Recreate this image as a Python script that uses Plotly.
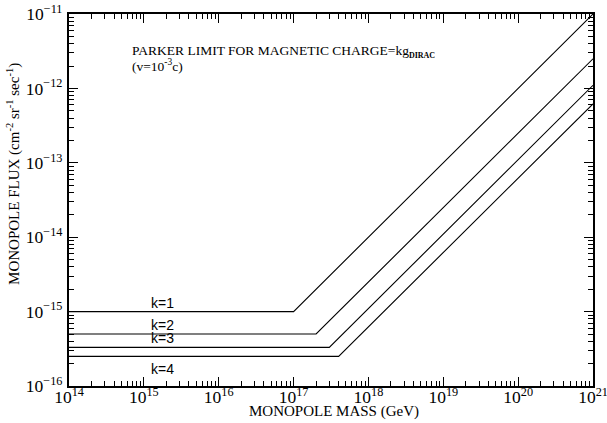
import plotly.graph_objects as go
import math

# Data (mass in GeV, flux in cm^-2 sr^-1 sec^-1)
k_values = [1, 2, 3, 4]
mass_k1 = [1e14, 1e17, 1e21]
flux_k1 = [1e-15, 1e-15, 1e-11]
mass_k2 = [1e14, 2e17, 1e21]
flux_k2 = [5e-16, 5e-16, 2.5e-12]
mass_k3 = [1e14, 3e17, 1e21]
flux_k3 = [3.3e-16, 3.3e-16, 1.1e-12]
mass_k4 = [1e14, 4e17, 1e21]
flux_k4 = [2.5e-16, 2.5e-16, 6.2e-13]
label_texts = ["k=1", "k=2", "k=3", "k=4"]
label_mass = 1.8e15

series = [(mass_k1, flux_k1), (mass_k2, flux_k2), (mass_k3, flux_k3), (mass_k4, flux_k4)]

SERIF = "Liberation Serif, Times New Roman, serif"
SANS = "Liberation Sans, Arial, sans-serif"

fig = go.Figure()
for (m, f) in series:
    fig.add_trace(go.Scatter(x=m, y=f, mode="lines",
                             line=dict(color="black", width=1.1),
                             showlegend=False, hoverinfo="skip"))

for i, (txt, (m, f)) in enumerate(zip(label_texts, series)):
    below = (i == 3)
    fig.add_annotation(x=math.log10(label_mass), y=math.log10(f[0]),
                       text=txt, showarrow=False,
                       xanchor="center",
                       yanchor="top" if below else "bottom",
                       yshift=-3 if below else -1,
                       font=dict(family=SANS, size=14, color="black"))

fig.add_annotation(xref="paper", yref="paper", x=0.1164, y=0.9005,
                   xanchor="left", yanchor="middle", showarrow=False,
                   text="PARKER LIMIT FOR MAGNETIC CHARGE=kg<sub><span style='font-size:8px'><b>DIRAC</b></span></sub>",
                   font=dict(family=SERIF, size=13.5, color="black"))
fig.add_annotation(xref="paper", yref="paper", x=0.1164, y=0.862,
                   xanchor="left", yanchor="middle", showarrow=False,
                   text="(v=10<sup>-3</sup>c)",
                   font=dict(family=SERIF, size=13.5, color="black"))

# axis titles
fig.add_annotation(xref="paper", yref="paper", x=0.506, y=-0.0695,
                   xanchor="center", yanchor="middle", showarrow=False,
                   text="MONOPOLE MASS (GeV)",
                   font=dict(family=SERIF, size=15, color="black"))
fig.add_annotation(xref="paper", yref="paper", x=-0.105, y=0.570,
                   xanchor="center", yanchor="middle", showarrow=False,
                   textangle=-90,
                   text="MONOPOLE FLUX (cm<sup>-2</sup> sr<sup>-1</sup> sec<sup>-1</sup>)",
                   font=dict(family=SERIF, size=15, color="black"))

axis_common = dict(type="log", showline=True, linecolor="black", linewidth=1.5,
                   mirror="allticks", ticks="inside", ticklen=9, tickwidth=1,
                   tickcolor="black", showgrid=False, zeroline=False,
                   exponentformat="power", dtick=1, ticklabeloverflow="allow",
                   automargin=False,
                   tickfont=dict(family=SERIF, size=14, color="black"),
                   minor=dict(ticks="inside", ticklen=5, tickwidth=1,
                              tickcolor="black", dtick="D1", showgrid=False))

fig.update_xaxes(range=[14, 21], ticklabelstandoff=-5, **axis_common)
fig.update_yaxes(range=[-16, -11], ticklabelstandoff=2, **axis_common)

fig.update_layout(width=607, height=423,
                  margin=dict(l=69, r=14, t=14, b=37),
                  paper_bgcolor="white", plot_bgcolor="white")

fig.write_html("out.html", config={"displayModeBar": False},
               post_script="document.body.style.margin='0';")
